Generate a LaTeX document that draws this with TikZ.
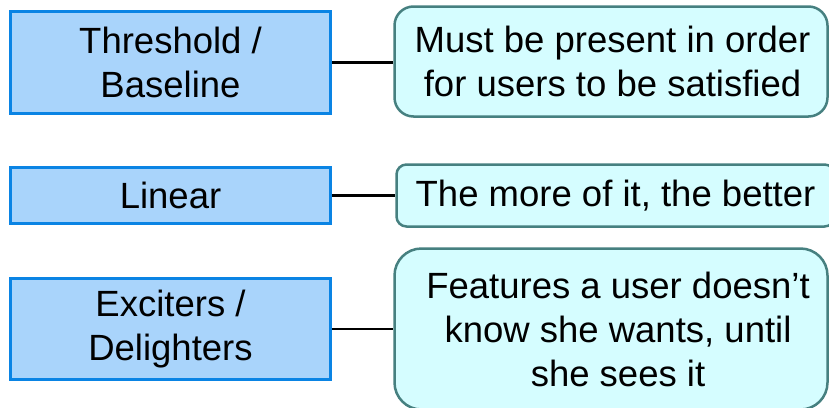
\documentclass[tikz,border=0pt]{standalone}
\usepackage{fontspec}
\setmainfont{Liberation Sans}
\definecolor{kindfill}{RGB}{169,212,251}
\definecolor{kindline}{RGB}{10,132,228}
\definecolor{notefill}{RGB}{213,253,255}
\definecolor{noteline}{RGB}{70,128,128}
\tikzset{
  kindbox/.style={draw=kindline, fill=kindfill, line width=3pt,
    minimum width=320pt, inner sep=0pt, align=center,
    font=\fontsize{36.5}{44}\selectfont},
  notebox/.style={draw=noteline, fill=notefill, line width=2.5pt, inner sep=0pt},
  notetext/.style={align=center, inner sep=0pt,
    font=\fontsize{36.5}{44}\selectfont},
  link/.style={draw=black, line width=2.8pt}
}
\begin{document}
\begin{tikzpicture}[x=1pt,y=-1pt]
\clip (0,0) rectangle (829,407);
\fill[white] (0,0) rectangle (829,407);

% categories on the left
\node[kindbox, minimum height=102pt] (k1) at (170.5,62.5) {Threshold /\\Baseline};
\node[kindbox, minimum height=56pt]  (k2) at (170.5,195.5) {Linear};
\node[kindbox, minimum height=101pt] (k3) at (170.5,329) {Exciters /\\Delighters};

% descriptions on the right
\node[notebox, rounded corners=19pt, minimum width=433pt, minimum height=110pt] (n1) at (611,61.5) {};
\node[notetext] (t1) at (612.5,61.5) {Must be present in order\\for users to be satisfied};

\node[notebox, rounded corners=10pt, minimum width=438pt, minimum height=62pt] (n2) at (615.5,195.5) {};
\node[notetext] (t2) at (615.5,195.5) {The more of it, the better};

\node[notebox, rounded corners=27pt, minimum width=433pt, minimum height=161pt] (n3) at (611,329) {};
\node[notetext] (t3) at (618,329) {Features a user doesn’t\\know she wants, until\\she sees it};

% connectors
\draw[link] (k1.east) -- (k1.east -| n1.west);
\draw[link] (k2.east) -- (k2.east -| n2.west);
\draw[link] (k3.east) -- (k3.east -| n3.west);
\end{tikzpicture}
\end{document}
